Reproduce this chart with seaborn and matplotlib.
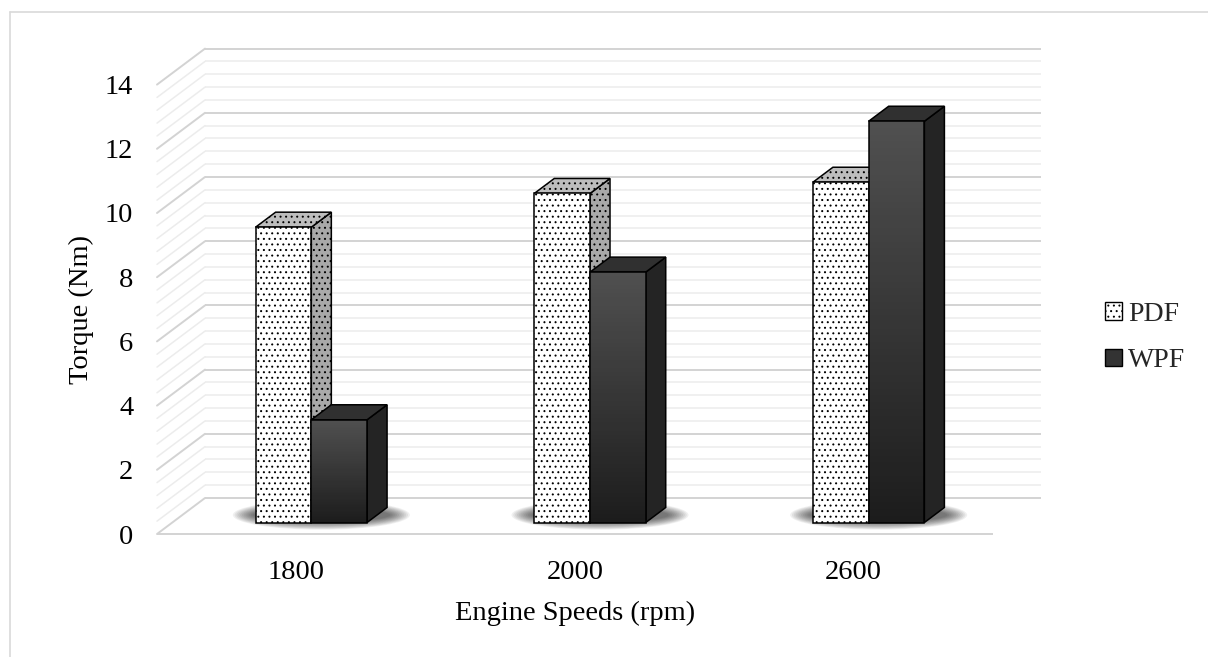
import numpy as np
import pandas as pd
import matplotlib
matplotlib.use("Agg")
import matplotlib.pyplot as plt
import seaborn as sns
from matplotlib.patches import Polygon, Rectangle, Ellipse, Patch
from matplotlib.lines import Line2D
from matplotlib.transforms import ScaledTranslation

# ---------------- data ----------------
speeds = ["1800", "2000", "2600"]
fuels = ["PDF", "WPF"]
pdf_torque = [9.2, 10.25, 10.6]
wpf_torque = [3.2, 7.8, 12.5]
y_ticks = [0, 2, 4, 6, 8, 10, 12, 14]

df = pd.DataFrame({
    "speed": speeds * 2,
    "fuel": ["PDF"] * len(speeds) + ["WPF"] * len(speeds),
    "torque": pdf_torque + wpf_torque,
})

sns.set_theme(style="white")
plt.rcParams["font.family"] = ["Liberation Serif", "DejaVu Serif"]
plt.rcParams["hatch.linewidth"] = 0.7

W, H = 1208, 657
fig = plt.figure(figsize=(W / 100, H / 100), dpi=100)
fig.patch.set_facecolor("white")

# front plane of the plot area (pixels from top-left)
L, R, B, T = 157, 993, 534, 84.6
ax = fig.add_axes([L / W, 1 - B / H, (R - L) / W, (B - T) / H])

sns.barplot(data=df, x="speed", y="torque", hue="fuel", order=speeds,
            hue_order=fuels, width=0.4, gap=0, dodge=True, errorbar=None,
            palette=["white", "#333333"], saturation=1, edgecolor="black",
            linewidth=1.1, legend=False, ax=ax)
ax.set_xlim(-0.5, 2.5)
ax.set_ylim(0, 14)

xu = 3.0 / (R - L)      # data units per pixel (x)
yu = 14.0 / (B - T)     # data units per pixel (y)

# depth of the floor / walls
dX, dY = 48 * xu, 36 * yu
# bar depth
bX, bY = 20 * xu, 15 * yu
# bar front plane offset (pixels)
bar_tr = ax.transData + ScaledTranslation(15 / 100, 11.5 / 100, fig.dpi_scale_trans)

# ---------------- walls & gridlines ----------------
for v in np.arange(0, 14.001, 0.4):
    major = abs(v / 2 - round(v / 2)) < 1e-6
    col = "#d3d3d3" if major else "#ececec"
    lw = 1.4 if major else 1.1
    ax.add_line(Line2D([-0.5 + dX, 2.5 + dX], [v + dY, v + dY], color=col, lw=lw,
                       clip_on=False, zorder=1, solid_capstyle="butt"))
    ax.add_line(Line2D([-0.5, -0.5 + dX], [v, v + dY], color=col, lw=lw,
                       clip_on=False, zorder=1))
ax.add_line(Line2D([-0.5, 2.5], [0, 0], color="#d3d3d3", lw=1.4,
                   clip_on=False, zorder=1, solid_capstyle="butt"))

# ---------------- bars with 3D faces ----------------
pdf_bars = ax.containers[0]
wpf_bars = ax.containers[1]

# soft shadows on the floor under every pair
for pp, pw in zip(pdf_bars, wpf_bars):
    x0 = pp.get_x()
    x1 = pw.get_x() + pw.get_width()
    cx = (x0 + x1) / 2 + bX / 2
    cy = bY / 2
    for k in range(12):
        e = Ellipse((cx, cy), (x1 - x0) + bX + (6 + 3.6 * k) * xu,
                    (14 + 1.4 * k) * yu, facecolor="black", edgecolor="none",
                    alpha=0.06, transform=bar_tr, zorder=2, clip_on=False)
        ax.add_patch(e)


def add_faces(p, side_col, top_col, hatch, z):
    x0, w, h = p.get_x(), p.get_width(), p.get_height()
    side = Polygon([(x0 + w, 0), (x0 + w + bX, bY), (x0 + w + bX, h + bY), (x0 + w, h)],
                   closed=True, facecolor=side_col, edgecolor="black", lw=1.1,
                   hatch=hatch, transform=bar_tr, zorder=z, clip_on=False)
    top = Polygon([(x0, h), (x0 + w, h), (x0 + w + bX, h + bY), (x0 + bX, h + bY)],
                  closed=True, facecolor=top_col, edgecolor="black", lw=1.1,
                  hatch=hatch, transform=bar_tr, zorder=z, clip_on=False)
    ax.add_patch(side)
    ax.add_patch(top)


for p in pdf_bars:
    p.set_transform(bar_tr)
    p.set_hatch("...")
    p.set_zorder(3.2)
    p.set_clip_on(False)
    add_faces(p, "#a9a9a9", "#bdbdbd", "...", 3.1)

top_c = np.array([0x50, 0x50, 0x50]) / 255
bot_c = np.array([0x1c, 0x1c, 0x1c]) / 255
for p in wpf_bars:
    p.set_transform(bar_tr)
    p.set_zorder(4.3)
    p.set_clip_on(False)
    p.set_facecolor("none")
    x0, w, h = p.get_x(), p.get_width(), p.get_height()
    n = 60
    for k in range(n):
        t = (k + 0.5) / n
        c = bot_c + (top_c - bot_c) * t
        ax.add_patch(Rectangle((x0, h * k / n), w, h / n * 1.05, facecolor=c,
                               edgecolor="none", lw=0, transform=bar_tr,
                               zorder=4.2, clip_on=False))
    add_faces(p, "#242424", "#303030", None, 4.1)

# ---------------- axes text ----------------
for s in ax.spines.values():
    s.set_visible(False)
ax.set_yticks(y_ticks)
ax.set_yticklabels([str(t) for t in y_ticks])
ax.tick_params(axis="y", length=0, pad=17, labelsize=20.5, labelcolor="black")
ax.tick_params(axis="x", length=0, pad=18.5, labelsize=20.5, labelcolor="black")
ax.set_xlabel("Engine Speeds (rpm)", fontsize=20.5, color="black")
ax.set_ylabel("Torque (Nm)", fontsize=20.5, color="black")
ax.xaxis.label.set_va("center")
ax.xaxis.set_label_coords(0.5, -(613 - B) / (B - T))
ax.yaxis.label.set_va("center")
ax.yaxis.set_label_coords((81 - L) / (R - L), 0.5)
ax.set_facecolor("none")
ax.grid(False)

# ---------------- legend ----------------
handles = [
    Patch(facecolor="white", edgecolor="black", hatch="...", lw=1.0, label="PDF"),
    Patch(facecolor="#333333", edgecolor="black", lw=1.0, label="WPF"),
]
fig.legend(handles=handles, loc="center left", bbox_to_anchor=(1105 / W, 1 - 337.5 / H),
           frameon=False, fontsize=20, handlelength=0.6, handleheight=0.6,
           handletextpad=0.22, labelspacing=0.78, borderpad=0, borderaxespad=0)

# ---------------- chart border (left & top) ----------------
fig.add_artist(Line2D([10 / W, 10 / W], [0, 1 - 12 / H], transform=fig.transFigure,
                      color="#d9d9d9", lw=1.2))
fig.add_artist(Line2D([10 / W, 1], [1 - 12 / H, 1 - 12 / H], transform=fig.transFigure,
                      color="#d9d9d9", lw=1.2))

fig.savefig("out.png", dpi=100, facecolor="white")
